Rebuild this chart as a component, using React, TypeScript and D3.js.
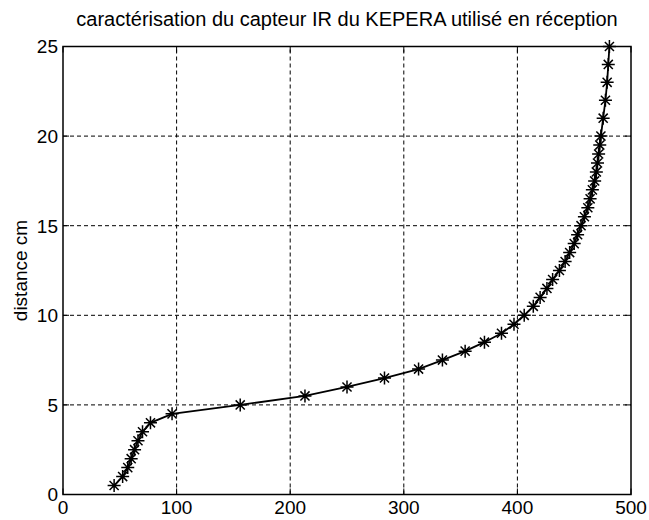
import React, { useRef, useEffect } from "react";
import * as d3 from "d3";

// IR sensor reading (x) against distance in cm (y)
const distances = [
  0.5, 1, 1.5, 2, 2.5, 3, 3.5, 4, 4.5, 5, 5.5, 6, 6.5, 7, 7.5, 8, 8.5, 9, 9.5,
  10, 10.5, 11, 11.5, 12, 12.5, 13, 13.5, 14, 14.5, 15, 15.5, 16, 16.5, 17,
  17.5, 18, 18.5, 19, 19.5, 20, 21, 22, 23, 24, 25,
];
const readings = [
  45, 52.5, 57, 60, 63, 66, 70, 77, 96, 156, 213, 250, 283, 313, 334, 354,
  371, 386, 397, 406, 414, 420, 426, 431, 437, 442, 446, 450, 453, 456, 459,
  462, 464, 466, 468, 469.5, 470.5, 471.5, 472.5, 473.5, 475.5, 477.5, 479,
  480, 481,
];
const xTicks = [0, 100, 200, 300, 400, 500];
const yTicks = [0, 5, 10, 15, 20, 25];
const title = "caractérisation du capteur IR du KEPERA utilisé en réception";
const yLabel = "distance cm";

const W = 649;
const H = 520;
const margin = { top: 46.5, right: 18, bottom: 25.5, left: 63 };

const App: React.FC = () => {
  const svgRef = useRef<SVGSVGElement | null>(null);

  useEffect(() => {
    const svg = d3.select(svgRef.current);
    svg.selectAll("*").remove();

    const x = d3.scaleLinear().domain([0, 500]).range([margin.left, W - margin.right]);
    const y = d3.scaleLinear().domain([0, 25]).range([H - margin.bottom, margin.top]);
    const font = "'Liberation Sans', Arial, sans-serif";

    svg.append("rect").attr("width", W).attr("height", H).attr("fill", "#fff");

    // dotted grid
    const grid = svg.append("g").attr("stroke", "#000").attr("stroke-width", 1).attr("stroke-dasharray", "4,3");
    grid
      .selectAll("line.vx")
      .data(xTicks.slice(1, -1))
      .enter()
      .append("line")
      .attr("x1", (d) => x(d))
      .attr("x2", (d) => x(d))
      .attr("y1", y(0))
      .attr("y2", y(25));
    grid
      .selectAll("line.hy")
      .data(yTicks.slice(1, -1))
      .enter()
      .append("line")
      .attr("x1", x(0))
      .attr("x2", x(500))
      .attr("y1", (d) => y(d))
      .attr("y2", (d) => y(d));

    // box
    svg
      .append("rect")
      .attr("x", x(0))
      .attr("y", y(25))
      .attr("width", x(500) - x(0))
      .attr("height", y(0) - y(25))
      .attr("fill", "none")
      .attr("stroke", "#000")
      .attr("stroke-width", 1.5);

    // inward ticks on all sides
    const ticks = svg.append("g").attr("stroke", "#000").attr("stroke-width", 1);
    xTicks.forEach((t) => {
      ticks.append("line").attr("x1", x(t)).attr("x2", x(t)).attr("y1", y(0)).attr("y2", y(0) - 6);
      ticks.append("line").attr("x1", x(t)).attr("x2", x(t)).attr("y1", y(25)).attr("y2", y(25) + 6);
    });
    yTicks.forEach((t) => {
      ticks.append("line").attr("x1", x(0)).attr("x2", x(0) + 6).attr("y1", y(t)).attr("y2", y(t));
      ticks.append("line").attr("x1", x(500)).attr("x2", x(500) - 6).attr("y1", y(t)).attr("y2", y(t));
    });

    // tick labels
    svg
      .selectAll("text.xt")
      .data(xTicks)
      .enter()
      .append("text")
      .attr("x", (d) => x(d))
      .attr("y", 514)
      .attr("text-anchor", "middle")
      .style("font-family", font)
      .style("font-size", "19px")
      .text((d) => d);
    svg
      .selectAll("text.yt")
      .data(yTicks)
      .enter()
      .append("text")
      .attr("x", x(0) - 5)
      .attr("y", (d) => y(d))
      .attr("dy", "0.36em")
      .attr("text-anchor", "end")
      .style("font-family", font)
      .style("font-size", "19px")
      .text((d) => d);

    // title and y label
    svg
      .append("text")
      .attr("x", (x(0) + x(500)) / 2)
      .attr("y", 26)
      .attr("text-anchor", "middle")
      .style("font-family", font)
      .style("font-size", "20px")
      .text(title);
    svg
      .append("text")
      .attr("transform", `translate(27, ${(y(0) + y(25)) / 2}) rotate(-90)`)
      .attr("text-anchor", "middle")
      .style("font-family", font)
      .style("font-size", "19px")
      .text(yLabel);

    // curve
    const pts = readings.map((r, i) => [r, distances[i]] as [number, number]);
    const line = d3
      .line<[number, number]>()
      .x((d) => x(d[0]))
      .y((d) => y(d[1]));
    svg
      .append("path")
      .datum(pts)
      .attr("d", line)
      .attr("fill", "none")
      .attr("stroke", "#000")
      .attr("stroke-width", 1.8);

    // asterisk markers
    const s = 6.5;
    const k = s * 0.7;
    const star = `M${-s},0L${s},0M0,${-s}L0,${s}M${-k},${-k}L${k},${k}M${-k},${k}L${k},${-k}`;
    svg
      .selectAll("path.star")
      .data(pts)
      .enter()
      .append("path")
      .attr("transform", (d) => `translate(${x(d[0])},${y(d[1])})`)
      .attr("d", star)
      .attr("fill", "none")
      .attr("stroke", "#000")
      .attr("stroke-width", 1.5);
  }, []);

  return (
    <svg
      ref={svgRef}
      width={W}
      height={H}
      style={{ position: "absolute", left: 0, top: 0, display: "block" }}
    />
  );
};

export default App;
